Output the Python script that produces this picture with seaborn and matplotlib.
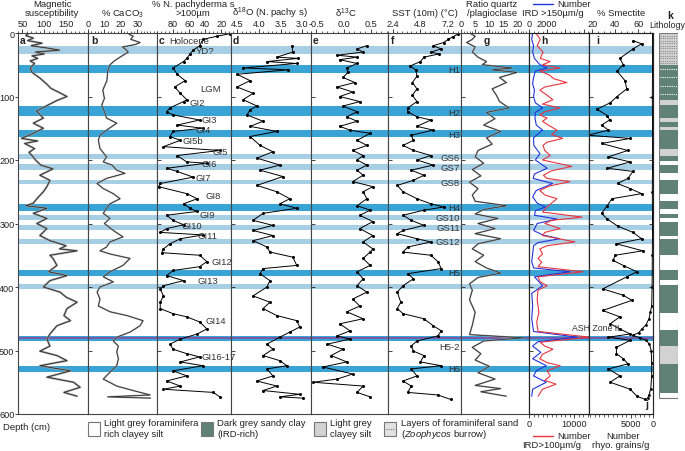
import matplotlib
matplotlib.use("Agg")
import matplotlib.pyplot as plt
from matplotlib.patches import Rectangle
from matplotlib.lines import Line2D
from matplotlib.ticker import MultipleLocator, FixedLocator, FixedFormatter
import seaborn as sns

# ---- data (depth in cm) ----
a_depth = [0, 4, 8, 12, 16, 20, 24, 27, 30, 33, 36, 40, 44, 48, 55, 62, 71, 80, 87, 94,
           100, 106, 113, 123, 134, 142, 150, 158, 166, 170, 174, 182, 188, 193, 200, 208, 214, 224, 232, 242,
           250, 261, 268, 272, 276, 284, 292, 300, 308, 319, 327, 335, 340, 343, 350, 355, 366, 376, 382, 390,
           400, 408, 416, 424, 434, 445, 453, 461, 474, 482, 493, 501, 508, 516, 524, 532, 542, 550, 558, 566, 572]
a_susc = [65, 58, 75, 62, 95, 70, 110, 135, 80, 100, 72, 85, 68, 78, 68, 72, 90, 105, 115, 135,
          152, 130, 110, 82, 98, 75, 98, 75, 48, 85, 55, 78, 65, 72, 80, 92, 120, 90, 113, 106,
          98, 83, 75, 58, 106, 75, 106, 83, 106, 90, 113, 150, 135, 175, 113, 120, 129, 110, 152, 113,
          98, 136, 150, 175, 152, 145, 160, 129, 113, 106, 113, 90, 129, 152, 90, 160, 106, 167, 182, 145, 175]

b_depth = [2, 5, 10, 15, 18, 22, 26, 30, 34, 38, 44, 50, 60, 75, 90, 103, 113, 124, 134, 142,
           153, 161, 169, 182, 195, 203, 208, 216, 221, 229, 237, 245, 253, 261, 269, 276, 284, 292, 300, 311,
           321, 329, 337, 343, 348, 355, 366, 376, 384, 392, 400, 408, 419, 430, 439, 445, 453, 461, 471, 479,
           485, 493, 502, 513, 524, 534, 545, 556, 563, 570, 573, 575]
b_caco3 = [25, 27.5, 26, 31.7, 29, 21, 23, 24.5, 22, 19.5, 16, 13.4, 12, 11.5, 9, 10, 8.4, 10, 11.3, 17.5,
           11.3, 7.3, 6.3, 7.3, 11.3, 9.3, 14.6, 17.5, 22.5, 11.3, 5.5, 9.3, 15.4, 19.5, 13.4, 11.3, 9.3, 13.4, 10, 15.4,
           21.3, 13.4, 11.3, 7.3, 13.4, 25.6, 21.3, 13.4, 9.3, 15.4, 7.3, 5.5, 7.3, 6.3, 13.4, 23.7, 33.5, 31.7, 25.6, 17.5,
           15.4, 18.5, 17.5, 18.5, 17.5, 13.4, 9.3, 17.5, 27.4, 37.8, 12, 38]

c_depth = [1, 5, 10, 20, 27, 33, 40, 45, 55, 65, 75, 85, 95, 105, 108, 118, 124, 129, 137, 145,
           150, 155, 163, 169, 179, 185, 193, 203, 205, 213, 218, 227, 237, 242, 253, 261, 269, 276, 281, 287,
           295, 302, 308, 314, 318, 324, 332, 340, 346, 350, 360, 368, 374, 382, 390, 398, 403, 414, 424, 434,
           442, 447, 455, 466, 474, 482, 490, 498, 505, 510, 518, 524, 532, 540, 548, 556, 561, 566, 573]
c_npachy = [9, 25, 43, 47, 55, 59, 63, 67, 80, 75, 65, 78, 71, 63, 67, 84, 88, 80, 47, 75,
            43, 80, 84, 71, 92, 22, 75, 63, 38, 88, 75, 55, 96, 98, 63, 50, 67, 59, 50, 88,
            80, 67, 88, 96, 43, 71, 84, 92, 94, 47, 38, 47, 80, 88, 67, 92, 96, 92, 96, 96,
            80, 63, 47, 38, 50, 71, 84, 80, 63, 47, 71, 43, 80, 63, 88, 71, 92, 30, 22]

d_depth = [20, 30, 38, 40, 45, 48, 55, 58, 65, 75, 85, 95, 105, 115, 121, 129, 139, 147, 155, 163,
           177, 187, 197, 208, 216, 226, 240, 250, 261, 269, 276, 284, 295, 303, 311, 319, 327, 337, 345, 353,
           366, 371, 379, 390, 400, 414, 424, 434, 445, 453, 463, 471, 479, 490, 498, 508, 516, 524, 529, 540,
           548, 556, 563, 569, 573, 575]
d_o18 = [3.24, 3.22, 3.59, 3.10, 3.82, 3.13, 4.37, 3.33, 4.51, 4.21, 4.51, 4.14, 4.37, 4.05, 4.21, 4.28, 3.91, 4.21, 3.59, 4.21,
         3.98, 3.68, 4.05, 3.52, 3.98, 3.45, 4.05, 3.59, 3.29, 3.52, 3.13, 3.91, 4.14, 3.68, 4.14, 3.68, 4.14, 3.82, 3.75, 3.22,
         3.13, 3.91, 3.98, 3.75, 3.82, 4.14, 3.75, 3.91, 3.59, 3.13, 3.06, 3.29, 3.52, 3.82, 3.68, 3.91, 3.52, 3.36, 3.82, 3.68,
         4.05, 3.59, 3.91, 3.06, 3.52, 2.99]

e_depth = [20, 25, 30, 35, 38, 42, 48, 55, 62, 70, 78, 85, 93, 100, 108, 115, 124, 132, 139, 147,
           153, 158, 169, 177, 185, 193, 200, 208, 216, 224, 234, 242, 250, 261, 272, 279, 287, 297, 308, 319,
           329, 340, 345, 355, 366, 376, 387, 398, 408, 419, 430, 439, 450, 458, 469, 477, 482, 490, 498, 508,
           518, 526, 537, 545, 550, 556, 566, 573]
e_c13 = [0.43, 0.25, 0.36, -0.12, 0.25, -0.07, 0.25, 0.06, 0.08, -0.01, 0.21, -0.12, 0.17, -0.07, 0.30, -0.01, 0.25, 0.06, 0.25, -0.07,
         0.12, 0.49, 0.25, 0.43, 0.17, 0.36, 0.25, 0.43, 0.25, 0.36, 0.17, 0.54, 0.36, 0.43, 0.25, 0.49, 0.30, 0.54, 0.30, 0.54,
         0.36, 0.54, 0.49, 0.36, 0.49, 0.25, 0.36, 0.25, 0.43, 0.17, 0.30, 0.06, 0.36, -0.07, 0.12, -0.12, 0.12, -0.30, -0.01, -0.23,
         0.06, -0.38, 0.17, -0.12, -0.56, 0.36, 0.25, 0.49]

f_depth = [2, 6, 10, 15, 20, 25, 30, 33, 38, 45, 52, 58, 68, 78, 88, 98, 108, 118, 124, 132,
           137, 147, 153, 161, 169, 177, 185, 193, 200, 208, 216, 224, 232, 240, 250, 261, 269, 274, 279, 287,
           295, 303, 311, 316, 324, 329, 337, 345, 350, 360, 371, 379, 387, 398, 408, 424, 434, 442, 450, 461,
           469, 477, 485, 493, 501, 508, 518, 524, 529, 540, 548, 556, 566, 570, 577]
f_sst = [8.0, 7.6, 7.2, 6.8, 5.9, 6.6, 5.7, 6.4, 5.1, 4.8, 3.9, 4.4, 4.5, 4.1, 4.5, 4.1, 4.5, 3.7, 3.7, 4.5,
         5.7, 4.5, 5.9, 4.0, 4.2, 3.3, 4.2, 5.7, 4.5, 5.9, 4.0, 5.1, 4.2, 2.8, 3.3, 4.5, 5.7, 6.8, 5.1, 3.3,
         4.0, 5.1, 3.3, 2.8, 4.5, 5.7, 3.7, 3.3, 5.7, 6.3, 6.6, 3.7, 4.2, 3.3, 2.8, 3.1, 2.8, 3.3, 5.1, 5.9,
         6.6, 6.3, 4.5, 4.0, 4.2, 5.1, 4.8, 6.6, 4.0, 4.5, 3.3, 4.0, 3.7, 6.3, 7.4]

g_depth = [0, 5, 10, 15, 22, 30, 38, 45, 50, 55, 58, 62, 70, 78, 88, 98, 108, 118, 125, 135,
           145, 155, 165, 175, 185, 195, 205, 215, 225, 235, 245, 255, 265, 272, 278, 285, 292, 300, 308, 316,
           324, 332, 340, 350, 360, 370, 378, 385, 395, 405, 420, 440, 460, 475, 480, 485, 495, 505, 515, 525,
           535, 545, 555, 560, 565, 572]
g_ratio = [3, 5, 4, 2, 5, 4, 6, 9, 7.5, 18, 11, 19.7, 13.6, 16, 11, 12.5, 13.6, 17, 9, 12,
           8, 14, 9, 11, 6, 5, 8, 4, 7, 3, 6, 4, 5, 16, 8, 5, 13, 6, 12, 5,
           14, 6, 4, 8, 5, 9, 14, 6, 3, 4, 3, 5, 4, 3, 22, 8, 4, 7, 5, 10,
           6, 12, 5, 14, 7, 16]

ird150_depth = [0, 10, 20, 30, 40, 50, 55, 60, 70, 80, 90, 100, 110, 118, 125, 134, 145, 153, 165, 177,
                190, 200, 213, 222, 229, 237, 248, 258, 268, 274, 280, 287, 293, 300, 311, 318, 324, 330, 335, 348,
                360, 370, 376, 384, 398, 410, 430, 450, 470, 479, 486, 493, 503, 513, 524, 532, 540, 550, 561, 572]
ird150 = [400, 300, 500, 400, 600, 1200, 2000, 700, 500, 400, 600, 500, 700, 1500, 700, 660, 800, 1500, 500, 530,
          1200, 700, 2000, 600, 450, 2600, 800, 400, 900, 1800, 700, 600, 3100, 900, 500, 1500, 3400, 1000, 500, 400,
          300, 500, 4500, 600, 1500, 300, 400, 300, 500, 5300, 1000, 400, 1300, 400, 1900, 800, 500, 1900, 400, 300]

ird100_depth = [0, 10, 20, 30, 40, 45, 50, 55, 60, 66, 72, 78, 85, 90, 98, 105, 112, 118, 124, 129,
                134, 139, 146, 153, 160, 166, 172, 177, 185, 193, 200, 210, 217, 224, 229, 234, 241, 248, 255, 261,
                268, 274, 282, 290, 295, 300, 308, 314, 319, 329, 335, 340, 348, 355, 361, 368, 376, 384, 392, 398,
                405, 420, 440, 455, 470, 479, 487, 493, 498, 506, 513, 519, 524, 532, 540, 547, 553, 561, 572]
ird100 = [1500, 2500, 1800, 3100, 2500, 4700, 3000, 6900, 2400, 4500, 5500, 8400, 3500, 2400, 4000, 5300, 3000, 6900, 3500, 2400,
          4000, 3000, 4500, 6200, 5000, 7500, 4000, 3100, 3500, 4700, 3000, 9500, 5000, 3200, 4000, 9100, 4500, 2400, 3500, 6200,
          5000, 4000, 3000, 11800, 5000, 3500, 6900, 3500, 3000, 10200, 4000, 2400, 3000, 2000, 2800, 2000, 12000, 2000, 2500, 4000,
          2000, 1800, 2200, 1700, 2000, 13500, 2500, 3500, 5300, 3000, 2400, 4000, 6900, 4000, 4700, 3500, 6000, 3000, 2000]

i_depth = [12, 17, 25, 40, 50, 60, 75, 88, 100, 110, 120, 130, 137, 145, 153, 161, 166, 174, 185, 195,
           203, 213, 218, 229, 237, 245, 253, 261, 272, 284, 293, 304, 314, 324, 332, 343, 350, 358, 367, 376,
           384, 403, 413, 421, 437, 447, 458, 466, 474, 479, 484, 495, 505, 513, 521, 529, 540, 550, 561, 572, 577]
i_smectite = [55.5, 63, 55.5, 44, 47, 41.5, 48.5, 50, 41.5, 35.5, 24, 33, 35, 28, 34, 16, 53, 28, 51, 34,
              53, 33, 55.5, 51, 42, 53, 63, 37, 33, 28, 33, 42, 55.5, 63, 41, 64, 40, 38, 48, 59,
              50, 29, 47, 54.5, 29, 44, 35.5, 44, 53, 34, 53, 41, 41, 47, 51, 34, 44, 35.5, 53, 59, 66]

j_depth = [0, 50, 100, 150, 200, 250, 300, 350, 400, 430, 440, 450, 460, 466, 472, 476, 480, 484, 490, 500,
           520, 540, 560, 570, 575]
j_rhyo = [100, 100, 150, 100, 100, 150, 100, 150, 200, 300, 600, 900, 1600, 2500, 3200, 4500, 3000, 1500, 800, 400,
          300, 300, 500, 900, 1200]

# stadial / Heinrich bands
band_top = [20, 50, 115, 153, 191, 207, 231, 270, 287, 303, 324, 373, 395, 477, 524]
band_bot = [33, 63, 130, 164, 199, 216, 238, 281, 295, 311, 332, 382, 403, 485, 534]
band_kind = ["light", "dark", "dark", "dark", "light", "light", "light", "dark",
             "light", "light", "light", "dark", "light", "dark", "dark"]
ash_depth = 480

# lithology log (0 white, 1 dark grey sandy clay, 2 light grey clayey silt)
lith_top = [0, 50, 105, 113, 134, 140, 148, 152, 183, 193, 201, 208, 221, 232, 253, 264, 277, 285, 292,
            298, 319, 324, 350, 374, 389, 397, 441, 467, 493, 521, 567]
lith_bot = [50, 105, 113, 134, 140, 148, 152, 183, 193, 201, 208, 221, 232, 253, 264, 277, 285, 292, 298,
            319, 324, 350, 374, 389, 397, 441, 467, 493, 521, 567, 575]
lith_kind = [2, 1, 2, 1, 2, 1, 2, 1, 2, 1, 0, 1, 0, 1, 0, 1, 0, 1, 0,
             1, 0, 1, 0, 1, 0, 1, 0, 1, 2, 1, 0]
sand_top_layers = [4, 8, 12, 16, 20, 24, 28, 32, 36, 40, 44, 48]
sand_dark_layers = [56, 70, 84, 96]

c_labels = ["GI2", "GI3", "GI4", "GI5b", "GI5", "GI6", "GI7", "GI8", "GI9", "GI10",
            "GI11", "GI12", "GI13", "GI14", "GI16-17"]
c_label_depth = [110, 137, 152, 169, 186, 205, 227, 256, 286, 303, 319, 360, 389, 452, 510]
c_label_x = [190, 202, 195, 183, 213, 202, 196, 206, 199, 182, 198, 211, 197, 206, 202]
f_labels = ["H1", "H2", "H3", "GS6", "GS7", "GS8", "H4", "GS10", "GS11", "GS12", "H5", "H5-2", "H6"]
f_label_depth = [57, 125, 160, 196, 212, 235, 275, 291, 307, 329, 377, 493, 529]

# ---- figure ----
sns.set_style("ticks")
plt.rcParams["font.family"] = ["Liberation Sans", "DejaVu Sans"]
plt.rcParams["font.size"] = 6.8
plt.rcParams["mathtext.fontset"] = "custom"
plt.rcParams["mathtext.rm"] = "Liberation Sans"
plt.rcParams["mathtext.it"] = "Liberation Sans:italic"
plt.rcParams["mathtext.bf"] = "Liberation Sans:bold"

W, H = 685, 452
TOP, BOT = 34, 415
FS = 6.8
TFS = 6.6
fig = plt.figure(figsize=(W / 100, H / 100), dpi=100)

DARK = "#3aa3d5"
LIGHT = "#a6cfe6"
LITH_DARK = "#5f8176"
LITH_LIGHT = "#d2d2d2"
INK = "#222222"


def depth_to_px(d):
    return TOP + d * (BOT - TOP) / 600


def ftext(x, y, s, **kw):
    fig.text(x / W, 1 - y / H, s, **kw)


def panel(x0, x1):
    ax = fig.add_axes([x0 / W, 1 - BOT / H, (x1 - x0) / W, (BOT - TOP) / H])
    for t, b, k in zip(band_top, band_bot, band_kind):
        ax.axhspan(t, b, color=DARK if k == "dark" else LIGHT, lw=0, zorder=0)
    ax.axhline(ash_depth, color="#7b58a8", lw=1.4, zorder=0.5)
    for s in ax.spines.values():
        s.set_linewidth(0.8)
        s.set_color("#444444")
    return ax


def style(ax, lim, ticks, labels, minor, side="top"):
    ax.set_xlim(*lim)
    ax.set_ylim(600, 0)
    ax.set_xlabel("")
    ax.set_ylabel("")
    ax.xaxis.set_major_locator(FixedLocator(ticks))
    ax.xaxis.set_major_formatter(FixedFormatter(labels))
    ax.xaxis.set_minor_locator(MultipleLocator(minor))
    ax.xaxis.set_ticks_position(side)
    on_top = side == "top"
    ax.tick_params(axis="x", which="major", top=on_top, bottom=not on_top,
                   labeltop=on_top, labelbottom=not on_top, direction="out",
                   length=3, width=0.6, labelsize=TFS, pad=0.8, colors=INK)
    ax.tick_params(axis="x", which="minor", top=on_top, bottom=not on_top,
                   direction="out", length=1.8, width=0.5)
    ax.yaxis.set_major_locator(MultipleLocator(100))
    ax.tick_params(axis="y", which="major", left=True, right=False, direction="in",
                   length=3, width=0.6, labelleft=False)


def trace(ax, x, y, color="black", lw=0.7, marker=None, ms=2.2, zorder=2):
    sns.lineplot(x=x, y=y, sort=False, estimator=None, ax=ax, color=color, lw=lw,
                 marker=marker, markersize=ms, markeredgewidth=0, legend=False, zorder=zorder)


# a: magnetic susceptibility
ax = panel(18, 88)
trace(ax, a_susc, a_depth, color="#a0a0a0", lw=1.5)
trace(ax, a_susc, a_depth, color=INK, lw=0.55)
style(ax, (40, 200), [50, 100, 150], ["50", "100", "150"], 10)
ax.tick_params(axis="y", which="major", direction="out", length=2, labelleft=True,
               labelsize=TFS, pad=0.5, colors=INK)

# b: CaCO3
ax = panel(88, 157)
trace(ax, b_caco3, b_depth, color="#a0a0a0", lw=1.2)
trace(ax, b_caco3, b_depth, color=INK, lw=0.5)
style(ax, (0, 42), [0, 10, 20, 30], ["0", "10", "20", "30"], 2)

# c: N. pachyderma s
ax = panel(157, 231)
trace(ax, c_npachy, c_depth, marker="o")
style(ax, (100, 8), [80, 60, 40, 20], ["80", "60", "40", "20"], 5)

# d: d18O
ax = panel(231, 311)
trace(ax, d_o18, d_depth, marker="o")
style(ax, (4.65, 2.8), [4.5, 4.0, 3.5, 3.0], ["4.5", "4.0", "3.5", "3.0"], 0.1)

# e: d13C
ax = panel(311, 388)
trace(ax, e_c13, e_depth, marker="o")
style(ax, (-0.6, 0.82), [-0.5, 0.0, 0.5], ["-0.5", "0.0", "0.5"], 0.1)

# f: SST
ax = panel(388, 461)
trace(ax, f_sst, f_depth, marker="o")
style(ax, (2.0, 8.3), [2.4, 4.8, 7.2], ["2.4", "4.8", "7.2"], 0.4)

# g: quartz / plagioclase
ax = panel(461, 529)
trace(ax, g_ratio, g_depth, color="#a0a0a0", lw=1.2)
trace(ax, g_ratio, g_depth, color=INK, lw=0.5)
style(ax, (0, 24), [0, 5, 10, 15, 20], ["0", "5", "10", "15", "20"], 1)

# h: IRD counts (blue on top axis, red on bottom axis)
ax = panel(529, 589)
ax2 = ax.twiny()
trace(ax2, ird100, ird100_depth, color="#e8353d", lw=0.8)
trace(ax, ird150, ird150_depth, color="#2233dd", lw=0.8, zorder=3)
style(ax, (0, 6600), [0, 2000, 4000, 6000], ["0", "2000", "", ""], 500)
style(ax2, (0, 13300), [0, 10000], ["0", "10000"], 1000, side="bottom")

# i: smectite (top), j: rhyolitic grains (bottom)
ax = panel(589, 653)
ax3 = ax.twiny()
trace(ax, i_smectite, i_depth, marker="o")
trace(ax3, j_rhyo, j_depth, marker="o", ms=2)
style(ax, (17, 73), [20, 40, 60], ["20", "40", "60"], 5)
style(ax3, (14300, 0), [5000, 0], ["5000", "0"], 1000, side="bottom")
ax.tick_params(axis="y", which="major", right=True, direction="in", length=3)

# k: lithology
axk = fig.add_axes([659 / W, 1 - BOT / H, 19 / W, (BOT - TOP) / H])
lith_colors = {0: "white", 1: LITH_DARK, 2: LITH_LIGHT}
heights = [b - t for t, b in zip(lith_top, lith_bot)]
axk.barh(lith_top, [1] * len(lith_top), height=heights, left=0, align="edge",
         color=[lith_colors[k] for k in lith_kind], lw=0)
axk.hlines(sand_top_layers, 0.06, 0.94, colors="#8a8a8a", linestyles=(0, (1, 1)), lw=0.8)
axk.hlines(sand_dark_layers, 0.06, 0.94, colors="white", linestyles=(0, (1, 1)), lw=0.8)
axk.add_patch(Rectangle((0, 0), 1, 575, fill=False, ec="#777777", lw=0.8))
axk.set_xlim(0, 1)
axk.set_ylim(600, 0)
axk.axis("off")

# ---- texts ----
hdr = dict(ha="center", va="center", fontsize=FS, color=INK)
ftext(52, 4.5, "Magnetic", **hdr)
ftext(52, 14, "susceptibility", **hdr)
ftext(122, 14, "% CaCO$_3$", **hdr)
ftext(193, 4.5, "% N. pachyderma s", **hdr)
ftext(193, 14, ">100µm", **hdr)
ftext(270, 13.5, "δ$^{18}$O (N. pachy s)", **hdr)
ftext(346, 13.5, "δ$^{13}$C", **hdr)
ftext(425, 14, "SST (10m) (°C)", **hdr)
ftext(492, 4.5, "Ratio quartz", **hdr)
ftext(492, 14, "/plagioclase", **hdr)
ftext(574, 4.5, "Number", **hdr)
ftext(553, 14, "IRD >150µm/g", **hdr)
ftext(621, 14, "% Smectite", **hdr)
ftext(670, 16, "k", ha="center", va="center", fontsize=7.5, fontweight="bold", color=INK)
ftext(667, 26, "Lithology", ha="center", va="center", fontsize=6.4, color=INK)
fig.add_artist(Line2D([533 / W, 553 / W], [1 - 4.5 / H, 1 - 4.5 / H], color="#2233dd", lw=1))

ftext(3, 428, "Depth (cm)", ha="left", va="center", fontsize=FS, color=INK)
ftext(574, 437, "Number", **hdr)
ftext(552, 446, "IRD>100µm/g", **hdr)
fig.add_artist(Line2D([533 / W, 553 / W], [1 - 437 / H, 1 - 437 / H], color="#e8353d", lw=1))
ftext(623, 437, "Number", **hdr)
ftext(621, 446, "rhyo. grains/g", **hdr)

for x, s in zip([20, 91, 159, 233, 313, 391, 484, 541, 596], "abcdefghi"):
    ftext(x, 41, s, ha="left", va="center", fontsize=7.5, fontweight="bold", color=INK)
ftext(645, 405, "j", ha="left", va="center", fontsize=7.5, fontweight="bold", color=INK)

lab = dict(ha="left", va="center", fontsize=FS, color="#333333")
ftext(169, 41, "Holocene", **lab)
ftext(196, 52, "YD?", **lab)
ftext(200, 90, "LGM", **lab)
for s, d, x in zip(c_labels, c_label_depth, c_label_x):
    ftext(x, depth_to_px(d), s, **lab)
for s, d in zip(f_labels, f_label_depth):
    ftext(460, depth_to_px(d), s, ha="right", va="center", fontsize=FS, color="#333333")
ftext(572, 329, "ASH Zone II", ha="left", va="center", fontsize=6.3, color="#333333")

# ---- lithology legend ----
leg_boxes = [(88, "white"), (201, LITH_DARK), (314, LITH_LIGHT), (384, "#e2e2e2")]
for x, c in leg_boxes:
    fig.add_artist(Rectangle((x / W, 1 - 437 / H), 12 / W, 14 / H, fc=c, ec="#777777", lw=0.8,
                             transform=fig.transFigure))
fig.add_artist(Line2D([386 / W, 394 / W], [1 - 430 / H, 1 - 430 / H], color="#777777", lw=0.8,
                      ls=(0, (1, 1))))
leg = dict(ha="left", va="center", fontsize=FS, color=INK)
ftext(104, 424, "Light grey foraminifera", **leg)
ftext(104, 435, "rich clayey silt", **leg)
ftext(217, 424, "Dark grey sandy clay", **leg)
ftext(217, 435, "(IRD-rich)", **leg)
ftext(330, 424, "Light grey", **leg)
ftext(330, 435, "clayey silt", **leg)
ftext(401, 424, "Layers of foraminiferal sand", **leg)
ftext(401, 435, "($\\it{Zoophycos}$ burrow)", **leg)

fig.savefig("out.png", dpi=100)
